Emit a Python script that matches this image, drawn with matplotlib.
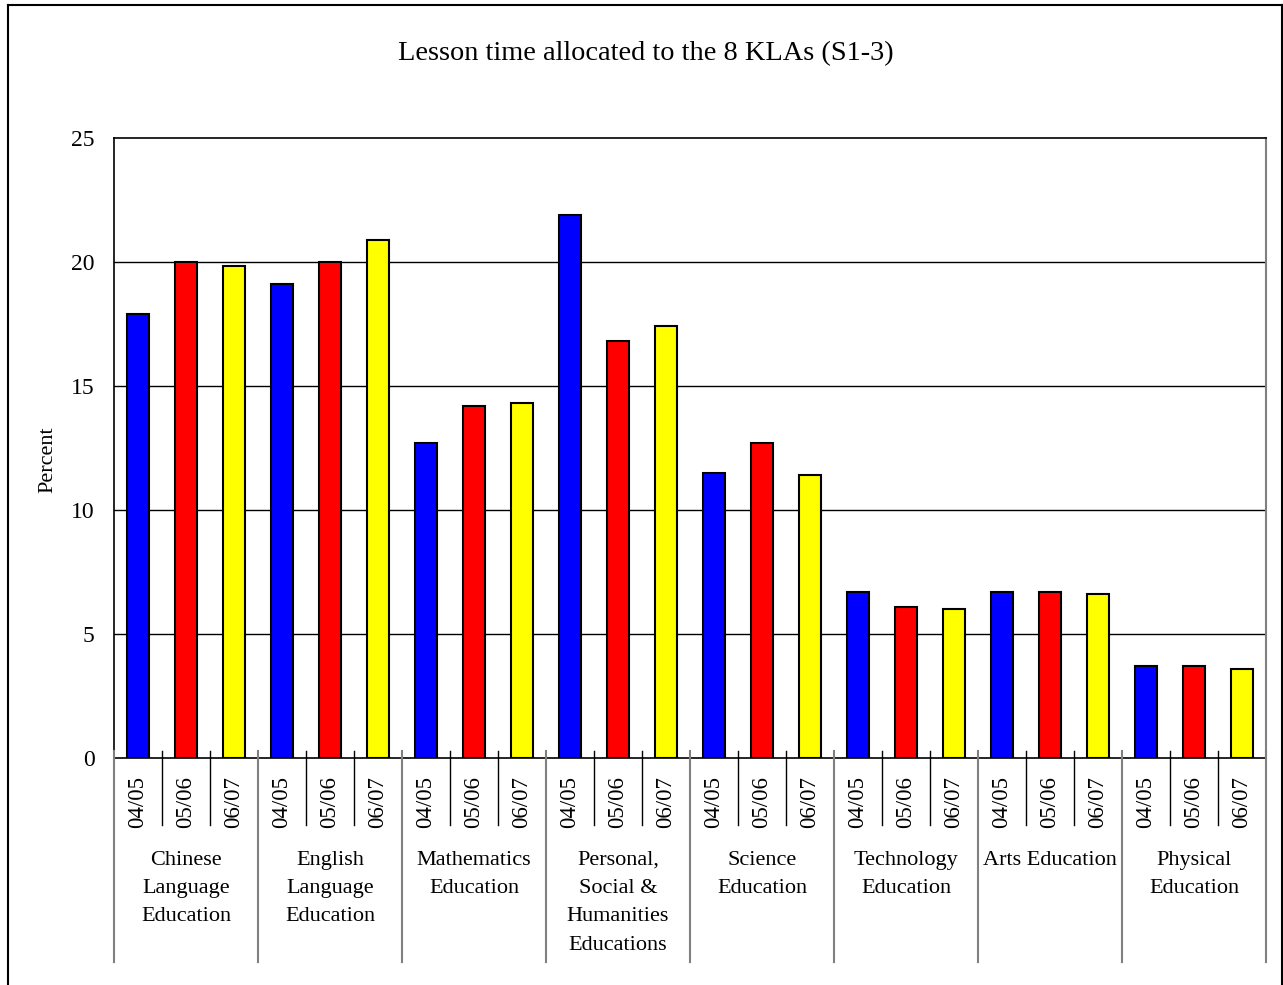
import matplotlib
matplotlib.use("Agg")
import matplotlib.pyplot as plt
from matplotlib.lines import Line2D
import numpy as np

plt.rcParams['font.family'] = ['Liberation Serif', 'DejaVu Serif']

title = "Lesson time allocated to the 8 KLAs (S1-3)"
ylabel = "Percent"
klas = ["Chinese\nLanguage\nEducation", "English\nLanguage\nEducation",
        "Mathematics\nEducation", "Personal,\nSocial &\nHumanities\nEducations",
        "Science\nEducation", "Technology\nEducation", "Arts Education",
        "Physical\nEducation"]
years = ["04/05", "05/06", "06/07"]
v0405 = [17.9, 19.1, 12.7, 21.9, 11.5, 6.7, 6.7, 3.7]
v0506 = [20.0, 20.0, 14.2, 16.8, 12.7, 6.1, 6.7, 3.7]
v0607 = [19.85, 20.9, 14.3, 17.4, 11.4, 6.0, 6.6, 3.6]
colors = ["#0000FF", "#FF0000", "#FFFF00"]
yticks = [0, 5, 10, 15, 20, 25]

W, H = 1283, 985
fig = plt.figure(figsize=(W / 100, H / 100), dpi=100)
L, T, R, B = 114, 138, 1266, 758
ax = fig.add_axes([L / W, 1 - B / H, (R - L) / W, (B - T) / H])

series = [v0405, v0506, v0607]
n = len(klas)
for j, vals in enumerate(series):
    xs = [g * 3 + j for g in range(n)]
    ax.bar(xs, vals, width=0.44, color=colors[j], edgecolor="black",
           linewidth=1.5, zorder=3)

ax.set_xlim(-0.5, 3 * n - 0.5)
ax.set_ylim(0, 25)
ax.set_yticks(yticks)
ax.set_yticklabels([str(t) for t in yticks], fontsize=17)
ax.tick_params(axis='y', length=0, pad=14)
ax.set_xticks([])
for t in yticks[1:-1]:
    ax.axhline(t, color="black", linewidth=1.0, zorder=1)
for s in ['left', 'top', 'bottom']:
    ax.spines[s].set_color("black")
    ax.spines[s].set_linewidth(1.2)
ax.spines['right'].set_color("#808080")
ax.spines['right'].set_linewidth(1.5)
fig.text(48 / W, 1 - 460 / H, ylabel, rotation=90, ha="center", va="center",
         fontsize=16)

trans = ax.get_xaxis_transform()
ph = B - T
def ay(py):
    return (B - py) / ph

# category separators
for k in range(3 * n + 1):
    x = k - 0.5
    if k % 3 == 0:
        ax.plot([x, x], [ay(751), ay(962)], transform=trans, color="#808080",
                linewidth=1.5, clip_on=False, zorder=4)
    else:
        ax.plot([x, x], [ay(751), ay(825)], transform=trans, color="black",
                linewidth=1.0, clip_on=False, zorder=4)

for g in range(n):
    for j in range(3):
        ax.text(g * 3 + j, ay(802), years[j], transform=trans, rotation=90,
                ha="center", va="center", fontsize=16.5)
    ax.text(g * 3 + 1, ay(851), klas[g], transform=trans, ha="center",
            va="top", fontsize=16, linespacing=1.66, multialignment="center")

fig.text(646 / W, 1 - 54 / H, title, ha="center", va="center", fontsize=20.4)

# outer chart border (bottom cut off)
lw = 1.5
fig.add_artist(Line2D([8 / W, 8 / W], [0, 1 - 5 / H], transform=fig.transFigure,
                      color="black", linewidth=lw))
fig.add_artist(Line2D([8 / W, 1282 / W], [1 - 5 / H, 1 - 5 / H],
                      transform=fig.transFigure, color="black", linewidth=lw))
fig.add_artist(Line2D([1282 / W, 1282 / W], [0, 1 - 5 / H],
                      transform=fig.transFigure, color="black", linewidth=lw))

fig.savefig("out.png", dpi=100)
